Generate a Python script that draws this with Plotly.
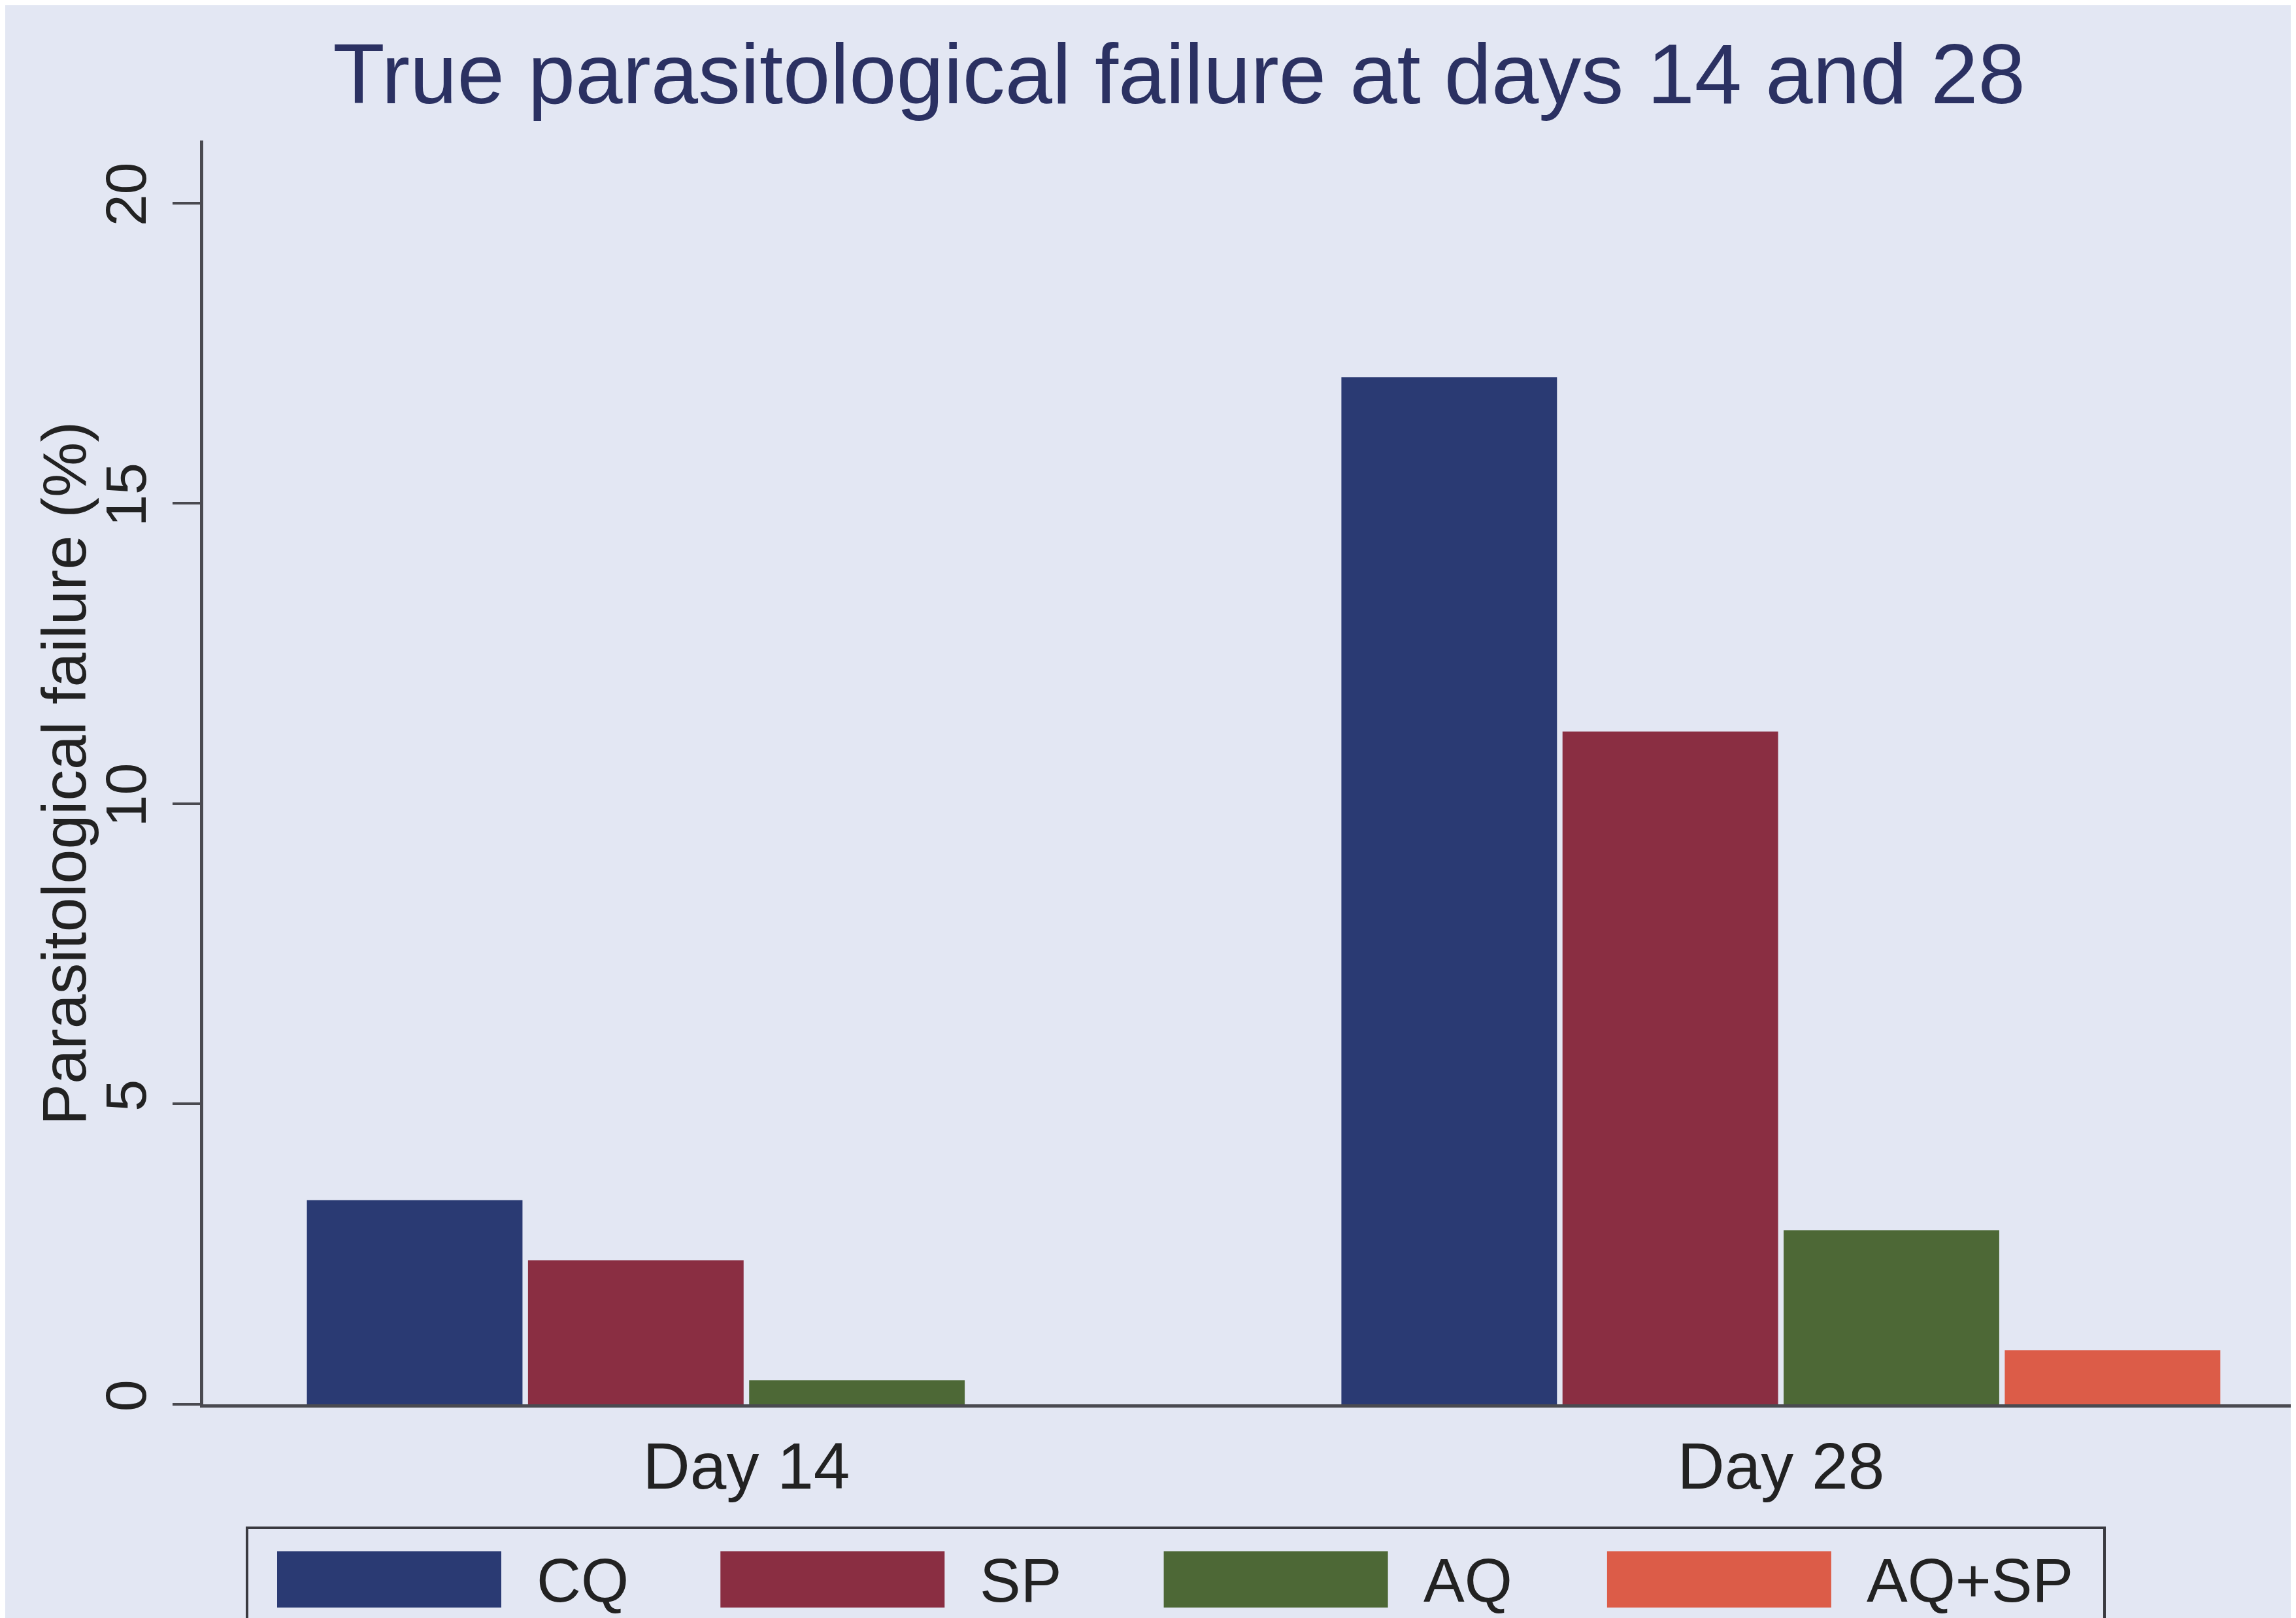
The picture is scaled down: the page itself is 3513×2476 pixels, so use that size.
import plotly.graph_objects as go

# ---------------- data ----------------
categories = ["Day 14", "Day 28"]
series_names = ["CQ", "SP", "AQ", "AQ+SP"]
cq_values = [3.4, 17.1]
sp_values = [2.4, 11.2]
aq_values = [0.4, 2.9]
aqsp_values = [0.0, 0.9]
y_tick_values = [0, 5, 10, 15, 20]
title_text = "True parasitological failure at days 14 and 28"
y_title_text = "Parasitological failure (%)"

# ---------------- style ----------------
series_colors = ["#2A3A73", "#8A2E42", "#4D6836", "#DC5C48"]
BG = "#E3E7F3"
AX = "#4A4A50"
TXT = "#222222"
TITLE_COL = "#2B3162"
FONT = "Liberation Sans, Arial, Helvetica, sans-serif"

W, H = 3513, 2476
PL, PR, PT, PB = 303, 3513, 207, 2141  # plot area pixel box


def px_x(X):
    return (X - PL) / (PR - PL)


def px_y(Y):
    return (PB - Y) / (PB - PT)


fig = go.Figure()
all_values = [cq_values, sp_values, aq_values, aqsp_values]
for name, vals, col in zip(series_names, all_values, series_colors):
    fig.add_trace(go.Bar(
        x=categories, y=vals, name=name,
        marker=dict(color=col, line=dict(width=0)),
        showlegend=False,
    ))

# custom wide-swatch legend (Stata style)
shapes = []
annotations = []
shapes.append(dict(type="rect", xref="paper", yref="paper",
                   x0=px_x(370), x1=px_x(3212), y0=px_y(2330), y1=px_y(2560),
                   line=dict(color="#3A3A40", width=4), fillcolor="rgba(0,0,0,0)",
                   layer="above"))
for i, (name, col) in enumerate(zip(series_names, series_colors)):
    sx = 416 + i * 678.3
    shapes.append(dict(type="rect", xref="paper", yref="paper",
                       x0=px_x(sx), x1=px_x(sx + 343), y0=px_y(2452), y1=px_y(2366),
                       line=dict(width=0), fillcolor=col, layer="above"))
    annotations.append(dict(text=name, xref="paper", yref="paper",
                            x=px_x(sx + 343 + 52), y=px_y(2410),
                            xanchor="left", yanchor="middle", showarrow=False,
                            font=dict(size=94, color=TXT, family=FONT)))

# y-axis title
annotations.append(dict(text=y_title_text, xref="paper", yref="paper",
                        x=px_x(90), y=px_y(1176), textangle=-90,
                        xanchor="center", yanchor="middle", showarrow=False,
                        font=dict(size=95, color=TXT, family=FONT)))

fig.update_layout(
    width=W, height=H,
    margin=dict(l=PL, r=W - PR, t=PT, b=H - PB, pad=0),
    paper_bgcolor=BG, plot_bgcolor=BG,
    barmode="group", bargap=0.145, bargroupgap=0.025,
    font=dict(family=FONT, color=TXT),
    title=dict(text=title_text, xref="container", yref="container",
               x=1796 / W, xanchor="center", y=1 - 104 / H, yanchor="middle",
               font=dict(size=130, color=TITLE_COL, family=FONT)),
    xaxis=dict(range=[-0.525, 1.503], showline=True, linecolor=AX, linewidth=5,
               ticks="", showgrid=False, zeroline=False,
               tickfont=dict(size=100, color=TXT), ticklabelstandoff=4),
    yaxis=dict(range=[0, 21.04], tickvals=y_tick_values, ticks="outside",
               ticklen=42, tickwidth=4, tickcolor=AX, showline=True,
               linecolor=AX, linewidth=5, tickangle=-90, showgrid=False,
               zeroline=False, tickfont=dict(size=88, color=TXT),
               ticklabelstandoff=6),
    shapes=shapes, annotations=annotations,
)

fig.write_html("out.html")
